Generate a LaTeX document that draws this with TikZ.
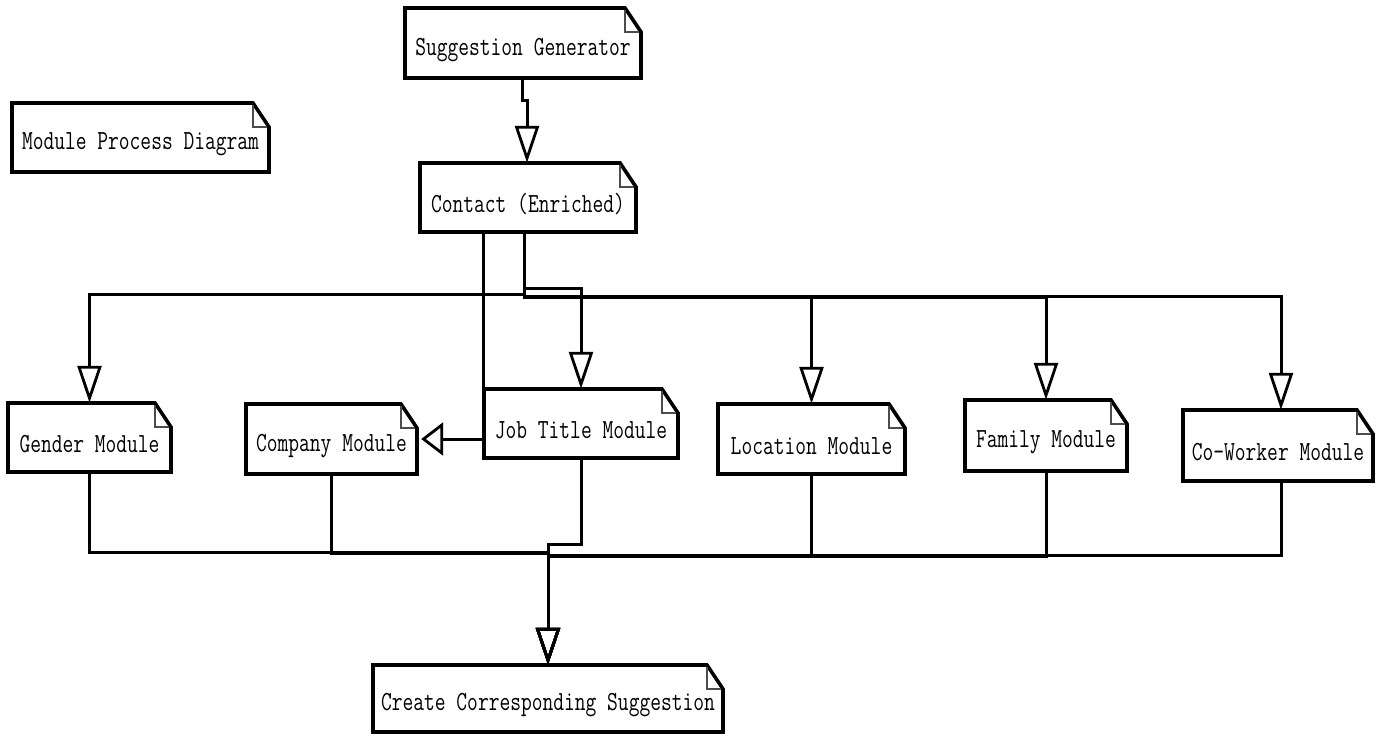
\documentclass[tikz,border=0pt]{standalone}
\usepackage{graphicx}
\usepackage{fontspec}
\usetikzlibrary{arrows.meta,calc}
\tikzset{
  notetext/.style={inner sep=0pt, font=\ttfamily\fontsize{20.5}{22}\selectfont},
  boxline/.style={line width=3.6pt, line join=miter},
  foldline/.style={line width=1.3pt, draw=black!70},
  conn/.style={line width=3pt},
  vtip/.style={-{Triangle[open,length=37pt,width=24pt,line width=2.8pt]}},
  htip/.style={-{Triangle[open,length=22pt,width=33pt,line width=2.8pt]}}
}
% #1 name, #2 left, #3 top, #4 right, #5 bottom, #6 text
\newcommand\notebox[6]{%
  \node[notetext, minimum width={(#4-#2)*1pt}, minimum height={(#5-#3)*1pt}] (#1) at ({(#2+#4)/2},{(#3+#5)/2}) {};
  \draw[boxline] (#2,#3) -- ({#4-16},#3) -- (#4,{#3+24}) -- (#4,#5) -- (#2,#5) -- cycle;
  \draw[foldline] ({#4-16},{#3+1.8}) -- ({#4-16},{#3+24}) -- ({#4-1.8},{#3+24});
  \node[notetext, yshift=-7pt] (#1-text) at (#1.center) {\scalebox{1.02}[1.35]{#6}};
}
\begin{document}
\begin{tikzpicture}[x=1pt,y=-1pt]
\useasboundingbox (0,0) rectangle (1382,734);
\fill[white] (0,0) rectangle (1382,734);

\notebox{sg}{405}{8}{641}{78}{Suggestion Generator}
\notebox{mpd}{12}{103}{269}{172}{Module Process Diagram}
\notebox{contact}{420}{163}{636}{232}{Contact (Enriched)}
\notebox{gender}{8}{403}{171}{472}{Gender Module}
\notebox{company}{246}{404}{417}{474}{Company Module}
\notebox{jobtitle}{484}{389}{678}{458}{Job Title Module}
\notebox{location}{718}{404}{905}{474}{Location Module}
\notebox{family}{965}{400}{1127}{471}{Family Module}
\notebox{coworker}{1183}{410}{1373}{481}{Co-Worker Module}
\notebox{create}{373}{665}{723}{732}{Create Corresponding Suggestion}

% bus coordinates
\coordinate (sgjog) at (0,100);
\coordinate (busA) at (0,294);
\coordinate (busJ) at (0,288);
\coordinate (busL) at (0,296);
\coordinate (busF) at (0,297);
\coordinate (busC) at (0,296);
\coordinate (botA) at (548,552);
\coordinate (botB) at (548,553);
\coordinate (botJ) at (548,544);
\coordinate (botL) at (548,555);
\coordinate (botF) at (548,556);
\coordinate (botC) at (548,555);

% Suggestion Generator -> Contact
\draw[conn, vtip] ([xshift=-1pt]sg.south) |- ([xshift=-1pt]sg.south |- sgjog) -| ([xshift=-1pt]contact.north);

% Contact -> modules
\draw[conn, vtip] ([xshift=-4pt]contact.south) |- (gender.north |- busA) -- (gender.north);
\draw[conn, vtip] ([xshift=-4pt]contact.south) |- (jobtitle.north |- busJ) -- (jobtitle.north);
\draw[conn, vtip] ([xshift=-4pt]contact.south) |- (location.north |- busL) -- (location.north);
\draw[conn, vtip] ([xshift=-4pt]contact.south) |- (family.north |- busF) -- (family.north);
\draw[conn, vtip] ([xshift=-4pt]contact.south) |- ([xshift=3pt]coworker.north |- busC) -- ([xshift=3pt]coworker.north);
\draw[conn, htip] ([xshift=-45pt]contact.south) |- ([xshift=4pt]company.east);

% modules -> Create
\draw[conn, vtip] (gender.south) |- (botA) -- (create.north);
\draw[conn, vtip] (company.south) |- (botB) -- (create.north);
\draw[conn, vtip] (jobtitle.south) |- (botJ) -- (create.north);
\draw[conn, vtip] (location.south) |- (botL) -- (create.north);
\draw[conn, vtip] (family.south) |- (botF) -- (create.north);
\draw[conn, vtip] ([xshift=3pt]coworker.south) |- (botC) -- (create.north);
\end{tikzpicture}
\end{document}
